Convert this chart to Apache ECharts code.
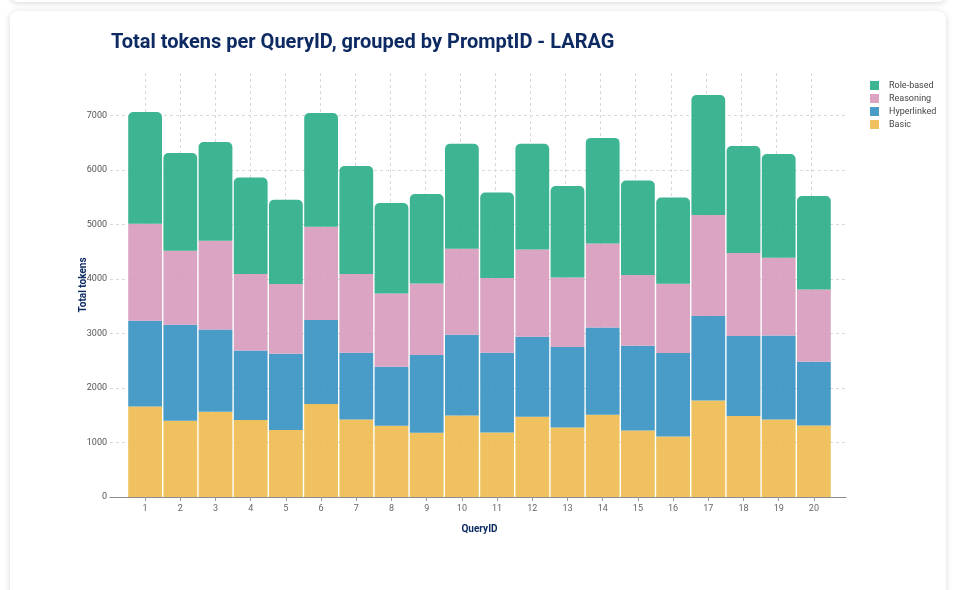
<!DOCTYPE html>
<html>
<head>
<meta charset="utf-8">
<script src="https://cdn.jsdelivr.net/npm/echarts@6/dist/echarts.min.js"></script>
<style>
  html, body { margin: 0; padding: 0; background: #fff; overflow: hidden; }
  .card { position: absolute; background: #fff; border-radius: 8px; box-shadow: 0 1px 6px rgba(0, 0, 0, 0.16); }
  #main { position: absolute; left: 0; top: 0; width: 953px; height: 590px; }
</style>
</head>
<body>
<div class="card" style="left:10px;top:-60px;width:936px;height:62px"></div>
<div class="card" style="left:10px;top:11px;width:936px;height:640px"></div>
<div id="main"></div>
<script>
// QueryIDs on the x axis
const queryIds = ['1', '2', '3', '4', '5', '6', '7', '8', '9', '10',
  '11', '12', '13', '14', '15', '16', '17', '18', '19', '20']
// tokens per PromptID
const basic = [1662, 1400, 1565, 1412, 1229, 1706, 1424, 1308, 1180, 1497,
  1185, 1473, 1277, 1510, 1222, 1112, 1772, 1486, 1424, 1314]
const hyperlinked = [1572, 1761, 1510, 1278, 1400, 1541, 1223, 1082, 1425, 1480,
  1462, 1468, 1475, 1601, 1554, 1530, 1549, 1468, 1541, 1168]
const reasoning = [1780, 1357, 1627, 1401, 1278, 1712, 1444, 1345, 1314, 1578,
  1371, 1602, 1277, 1541, 1297, 1271, 1852, 1522, 1425, 1327]
const roleBased = [2049, 1793, 1811, 1773, 1547, 2086, 1981, 1658, 1640, 1926,
  1570, 1938, 1676, 1937, 1735, 1583, 2202, 1963, 1902, 1713]
const legendOrder = ['Role-based', 'Reasoning', 'Hyperlinked', 'Basic']

const yMax = 7780
const navy = '#0d2a63'
const gridLine = { show: true, lineStyle: { color: '#d9d9d9', type: [3, 3], width: 1 } }

let myChart = echarts.init(document.getElementById('main'))

function barSeries (name, data, color, top) {
  return {
    name: name,
    type: 'bar',
    stack: 'total',
    xAxisIndex: 0,
    yAxisIndex: 0,
    barCategoryGap: '4%',
    data: data,
    itemStyle: {
      color: color,
      opacity: 0.9,
      borderRadius: top ? [5, 5, 0, 0] : 0
    },
    emphasis: { disabled: true }
  }
}

let option = {
  animation: false,
  title: {
    text: 'Total tokens per QueryID, grouped by PromptID - LARAG',
    left: 106,
    top: 28,
    textStyle: {
      fontFamily: 'Roboto, sans-serif',
      fontWeight: 'bold',
      fontSize: 20,
      color: navy
    }
  },
  legend: {
    data: legendOrder,
    orient: 'vertical',
    left: 865,
    top: 76,
    icon: 'rect',
    itemWidth: 9,
    itemHeight: 9,
    itemGap: 4,
    textStyle: { fontFamily: 'Roboto', fontSize: 9, color: '#444', padding: [0, 0, 0, 5] }
  },
  grid: [
    // bars
    { left: 127.5, right: 121.5, top: 73, bottom: 93 },
    // full-width frame: y labels, grid lines, x axis line
    { left: 110, right: 107, top: 73, bottom: 93 }
  ],
  xAxis: [
    {
      type: 'category',
      gridIndex: 0,
      data: queryIds,
      name: 'QueryID',
      nameLocation: 'middle',
      nameGap: 27,
      nameMoveOverlap: false,
      nameTextStyle: {
        fontFamily: 'Roboto, sans-serif',
        fontWeight: 'bold', fontSize: 10, color: navy
      },
      axisLine: { show: false },
      axisTick: { show: true, alignWithLabel: true, length: 4, lineStyle: { color: '#999' } },
      axisLabel: { fontFamily: 'Roboto', fontSize: 9, color: '#666', margin: 7 },
      splitLine: { show: false }
    },
    {
      type: 'value',
      gridIndex: 1,
      min: 0,
      max: 21,
      interval: 1,
      axisLine: { show: true, lineStyle: { color: '#8c8c8c', width: 1.2 } },
      axisTick: { show: false },
      axisLabel: { show: false },
      splitLine: Object.assign({ showMinLine: false, showMaxLine: false }, gridLine)
    }
  ],
  yAxis: [
    {
      type: 'value',
      gridIndex: 0,
      min: 0,
      max: yMax,
      show: false,
      splitLine: { show: false }
    },
    {
      type: 'value',
      gridIndex: 1,
      min: 0,
      max: yMax,
      interval: 1000,
      name: 'Total tokens',
      nameLocation: 'middle',
      nameGap: 22,
      nameMoveOverlap: false,
      nameTextStyle: {
        fontFamily: 'Roboto, sans-serif',
        fontWeight: 'bold', fontSize: 10, color: navy
      },
      axisLine: { show: false },
      axisTick: { show: false },
      axisLabel: {
        fontFamily: 'Roboto', fontSize: 9, color: '#555', margin: 3, showMaxLabel: false,
        formatter: function (v) { return String(v) }
      },
      splitLine: Object.assign({ showMinLine: false, showMaxLine: false }, gridLine)
    }
  ],
  series: [
    barSeries('Basic', basic, '#edbb4e', false),
    barSeries('Hyperlinked', hyperlinked, '#3691c2', false),
    barSeries('Reasoning', reasoning, '#d89abd', false),
    barSeries('Role-based', roleBased, '#29ad86', true)
  ]
}

option && myChart.setOption(option)
</script>
</body>
</html>
